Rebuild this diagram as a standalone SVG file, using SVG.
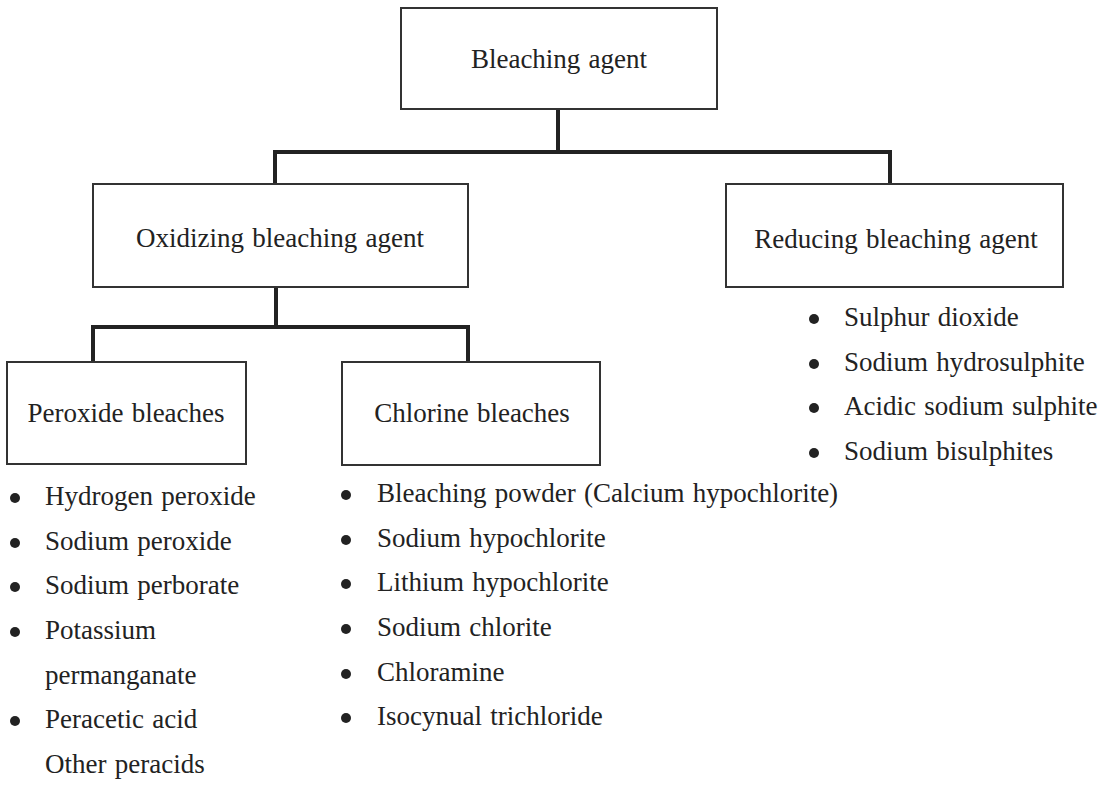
<svg xmlns="http://www.w3.org/2000/svg" width="1110" height="786" viewBox="0 0 1110 786">
<style>
  .box { fill: #ffffff; stroke: #333333; stroke-width: 2; }
  .lbl { font-family: "Liberation Serif", "Times New Roman", serif; font-size: 27px; fill: #222222; word-spacing: 1.5px; }
  .mid { text-anchor: middle; }
  .conn { fill: none; stroke: #222222; stroke-width: 4; stroke-linecap: square; stroke-linejoin: miter; }
  .dot { fill: #222222; }
</style>
<rect width="1110" height="786" fill="#ffffff"/>
<g id="connectors">
  <path class="conn" d="M558 110 V152"/>
  <path class="conn" d="M275 184 V152 H890 V184"/>
  <path class="conn" d="M276 288 V327"/>
  <path class="conn" d="M93 361 V327 H468 V361"/>
</g>
<g id="bleaching-agent">
  <rect class="box" x="401" y="8" width="316" height="101"/>
  <text class="lbl mid" x="559" y="68">Bleaching agent</text>
</g>
<g id="oxidizing">
  <rect class="box" x="93" y="184" width="375" height="103"/>
  <text class="lbl mid" x="280" y="247">Oxidizing bleaching agent</text>
</g>
<g id="reducing">
  <rect class="box" x="726" y="184" width="337" height="103"/>
  <text class="lbl mid" x="896" y="248">Reducing bleaching agent</text>
</g>
<g id="peroxide">
  <rect class="box" x="7" y="362" width="239" height="102"/>
  <text class="lbl mid" x="126" y="422">Peroxide bleaches</text>
</g>
<g id="chlorine">
  <rect class="box" x="342" y="362" width="258" height="103"/>
  <text class="lbl mid" x="472" y="422">Chlorine bleaches</text>
</g>
<g id="reducing-list">
  <circle class="dot" cx="814" cy="319" r="5"/><text class="lbl" x="844" y="326">Sulphur dioxide</text>
  <circle class="dot" cx="814" cy="364" r="5"/><text class="lbl" x="844" y="371">Sodium hydrosulphite</text>
  <circle class="dot" cx="814" cy="408" r="5"/><text class="lbl" x="844" y="415">Acidic sodium sulphite</text>
  <circle class="dot" cx="814" cy="453" r="5"/><text class="lbl" x="844" y="460">Sodium bisulphites</text>
</g>
<g id="peroxide-list">
  <circle class="dot" cx="15" cy="498" r="5"/><text class="lbl" x="45" y="505">Hydrogen peroxide</text>
  <circle class="dot" cx="15" cy="543" r="5"/><text class="lbl" x="45" y="550">Sodium peroxide</text>
  <circle class="dot" cx="15" cy="587" r="5"/><text class="lbl" x="45" y="594">Sodium perborate</text>
  <circle class="dot" cx="15" cy="632" r="5"/><text class="lbl" x="45" y="639">Potassium</text>
  <text class="lbl" x="45" y="684">permanganate</text>
  <circle class="dot" cx="15" cy="721" r="5"/><text class="lbl" x="45" y="728">Peracetic acid</text>
  <text class="lbl" x="45" y="773">Other peracids</text>
</g>
<g id="chlorine-list">
  <circle class="dot" cx="346" cy="495" r="5"/><text class="lbl" x="377" y="502">Bleaching powder (Calcium hypochlorite)</text>
  <circle class="dot" cx="346" cy="540" r="5"/><text class="lbl" x="377" y="547">Sodium hypochlorite</text>
  <circle class="dot" cx="346" cy="584" r="5"/><text class="lbl" x="377" y="591">Lithium hypochlorite</text>
  <circle class="dot" cx="346" cy="629" r="5"/><text class="lbl" x="377" y="636">Sodium chlorite</text>
  <circle class="dot" cx="346" cy="674" r="5"/><text class="lbl" x="377" y="681">Chloramine</text>
  <circle class="dot" cx="346" cy="718" r="5"/><text class="lbl" x="377" y="725">Isocynual trichloride</text>
</g>
</svg>
